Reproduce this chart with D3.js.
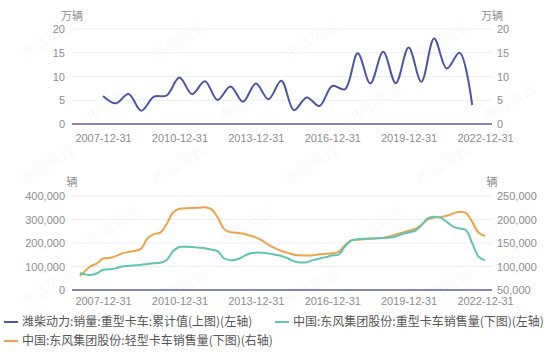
<!DOCTYPE html>
<html>
<head>
<meta charset="utf-8">
<script src="https://cdn.jsdelivr.net/npm/d3@7"></script>
<style>
  body { margin: 0; background: #fff; }
  svg { font-family: "Noto Sans CJK SC", "Noto Sans", sans-serif; }
</style>
</head>
<body>
<div id="chart"></div>
<script>
// weichai / dongfeng truck sales, two stacked panels
// ================================================

var colours = ['#4b55a2', '#5ec5b0', '#f0a24a'];

// top panel: 潍柴动力 重卡 累计值 (万辆), half-yearly
var topDates = ['2007-12-31','2008-06-30','2008-12-31','2009-06-30','2009-12-31','2010-06-30',
  '2010-12-31','2011-06-30','2011-12-31','2012-06-30','2012-12-31','2013-06-30','2013-12-31',
  '2014-06-30','2014-12-31','2015-06-30','2015-12-31','2016-06-30','2016-12-31','2017-06-30',
  '2017-12-31','2018-06-30','2018-12-31','2019-06-30','2019-12-31','2020-06-30','2020-12-31',
  '2021-06-30','2021-12-31','2022-06-30'];
var weichai = [5.9, 4.35, 6.3, 2.8, 5.75, 6.0, 9.8, 6.3, 9.0, 5.05, 7.9, 4.7, 8.55, 5.2, 9.1,
  2.9, 5.6, 3.8, 8.0, 7.3, 14.9, 8.55, 15.2, 8.6, 16.1, 8.9, 18.0, 11.7, 15.0, 4.0];

// bottom panel: 东风集团股份 重卡 (left axis) / 轻卡 (right axis), 辆
var botDates = ['2007-01-31','2007-03-31','2007-06-30','2007-09-30','2007-12-31',
  '2008-03-31','2008-06-30','2008-09-30','2008-12-31','2009-03-31','2009-06-30','2009-09-30','2009-12-31',
  '2010-03-31','2010-06-30','2010-09-30','2010-12-31','2011-03-31','2011-06-30','2011-09-30','2011-12-31',
  '2012-03-31','2012-06-30','2012-09-30','2012-12-31','2013-03-31','2013-06-30','2013-09-30','2013-12-31',
  '2014-03-31','2014-06-30','2014-09-30','2014-12-31','2015-03-31','2015-06-30','2015-09-30','2015-12-31',
  '2016-03-31','2016-06-30','2016-09-30','2016-12-31','2017-03-31','2017-06-30','2017-09-30','2017-12-31',
  '2018-03-31','2018-06-30','2018-09-30','2018-12-31','2019-03-31','2019-06-30','2019-09-30','2019-12-31',
  '2020-03-31','2020-06-30','2020-09-30','2020-12-31','2021-03-31','2021-06-30','2021-09-30','2021-12-31',
  '2022-03-31','2022-06-30','2022-09-30','2022-12-31'];
var dfHeavy = [71000, 68000, 64000, 70000, 86000,
  88000, 92000, 100000, 103000, 105000, 107000, 111000, 114000,
  116000, 128000, 165000, 183000, 184000, 183000, 180000, 178000,
  172000, 165000, 135000, 127000, 130000, 142000, 155000, 159000,
  158000, 155000, 150000, 145000, 135000, 122000, 117000, 118000,
  127000, 134000, 140000, 147000, 150000, 185000, 210000, 216000,
  218000, 219000, 220000, 221000, 223000, 228000, 238000, 245000,
  252000, 275000, 305000, 312000, 308000, 290000, 270000, 262000,
  255000, 200000, 142000, 126000];
var dfLight = [80000, 88000, 100000, 106000, 117000,
  118000, 122000, 128000, 131000, 133000, 138000, 160000, 169000,
  172000, 190000, 215000, 223000, 224000, 224500, 225000, 226000,
  222000, 205000, 180000, 173000, 172000, 170000, 166000, 162000,
  155000, 146000, 139000, 133000, 129000, 125000, 124000, 123500,
  124000, 126000, 127000, 128000, 131000, 145000, 156000, 157000,
  158000, 159000, 160000, 161000, 164000, 168000, 172000, 176000,
  180000, 188000, 200000, 204000, 205000, 208000, 213000, 216000,
  214000, 195000, 172000, 165000];

var xTicks = ['2007-12-31','2010-12-31','2013-12-31','2016-12-31','2019-12-31','2022-12-31'];
var topTicks = [0, 5, 10, 15, 20];
var botLeftTicks = [0, 100000, 200000, 300000, 400000];
var botRightTicks = [50000, 100000, 150000, 200000, 250000];

var legendItems = [
  '潍柴动力:销量:重型卡车:累计值(上图)(左轴)',
  '中国:东风集团股份:重型卡车销售量(下图)(左轴)',
  '中国:东风集团股份:轻型卡车销售量(下图)(右轴)'
];

var width = 550,
    height = 354;

var parse = d3.timeParse('%Y-%m-%d');

var svg = d3.select('#chart').append('svg')
    .attr('width', width)
    .attr('height', height);

// faint watermark
var wm = svg.append('g').attr('fill', '#000').attr('fill-opacity', 0.045)
    .attr('font-size', 15);
for (var r = 0; r < 5; r++) {
  for (var c = 0; c < 4; c++) {
    var wx = 50 + c * 132 + (r % 2) * 66,
        wy = 45 + r * 62;
    wm.append('text')
      .attr('transform', 'translate(' + wx + ',' + wy + ') rotate(-32)')
      .attr('text-anchor', 'middle')
      .text('市值风云');
  }
}

var left = 72, right = 492;

var x = d3.scaleTime()
    .domain([new Date(2006, 9, 12), new Date(2023, 3, 10)])
    .range([left, right]);

var yTop = d3.scaleLinear().domain([0, 20]).range([124, 29]);
var yBotL = d3.scaleLinear().domain([0, 400000]).range([290, 196]);
var yBotR = d3.scaleLinear().domain([50000, 250000]).range([290, 196]);

var curve = d3.curveCatmullRom.alpha(0.5);

function grid(g, scale, ticks) {
  g.selectAll('line.grid')
    .data(ticks.slice(1))
    .enter().append('line')
    .attr('x1', left).attr('x2', right)
    .attr('y1', d => scale(d)).attr('y2', d => scale(d))
    .attr('stroke', '#eceef6')
    .attr('stroke-width', 1);
}

function styleAxis(g) {
  g.select('.domain').remove();
  g.selectAll('.tick line').remove();
  g.selectAll('text').attr('fill', '#8c8c8c').attr('font-size', 11);
}

function xAxis(yPos, labelY) {
  var g = svg.append('g').attr('transform', 'translate(0,' + yPos + ')');
  g.call(d3.axisBottom(x).tickValues(xTicks.map(parse)).tickFormat(d3.timeFormat('%Y-%m-%d')).tickSize(0).tickPadding(labelY));
  styleAxis(g);
  svg.append('line')
    .attr('x1', left).attr('x2', right)
    .attr('y1', yPos).attr('y2', yPos)
    .attr('stroke', '#5a5fa3').attr('stroke-width', 1.5);
}

var fmt = d3.format(',');

// ---- top panel
var topPanel = svg.append('g');
grid(topPanel, yTop, topTicks);

var gl = svg.append('g').attr('transform', 'translate(' + left + ',0)');
gl.call(d3.axisLeft(yTop).tickValues(topTicks).tickSize(0).tickPadding(7));
styleAxis(gl);
var gr = svg.append('g').attr('transform', 'translate(' + right + ',0)');
gr.call(d3.axisRight(yTop).tickValues(topTicks).tickSize(0).tickPadding(5));
styleAxis(gr);

xAxis(124, 10);

var topData = topDates.map((d, i) => ({ date: parse(d), v: weichai[i] }));
svg.append('path')
    .datum(topData)
    .attr('fill', 'none')
    .attr('stroke', colours[0])
    .attr('stroke-width', 2)
    .attr('d', d3.line().curve(curve).x(d => x(d.date)).y(d => yTop(d.v)));

// ---- bottom panel
var botPanel = svg.append('g');
grid(botPanel, yBotL, botLeftTicks);

var bl = svg.append('g').attr('transform', 'translate(' + left + ',0)');
bl.call(d3.axisLeft(yBotL).tickValues(botLeftTicks).tickFormat(fmt).tickSize(0).tickPadding(7));
styleAxis(bl);
var br = svg.append('g').attr('transform', 'translate(' + right + ',0)');
br.call(d3.axisRight(yBotR).tickValues(botRightTicks).tickFormat(fmt).tickSize(0).tickPadding(5));
styleAxis(br);

xAxis(290, 7);

var heavyData = botDates.map((d, i) => ({ date: parse(d), v: dfHeavy[i] }));
var lightData = botDates.map((d, i) => ({ date: parse(d), v: dfLight[i] }));

svg.append('path')
    .datum(lightData)
    .attr('fill', 'none')
    .attr('stroke', colours[2])
    .attr('stroke-width', 2)
    .attr('d', d3.line().curve(curve).x(d => x(d.date)).y(d => yBotR(d.v)));

svg.append('path')
    .datum(heavyData)
    .attr('fill', 'none')
    .attr('stroke', colours[1])
    .attr('stroke-width', 2)
    .attr('d', d3.line().curve(curve).x(d => x(d.date)).y(d => yBotL(d.v)));

// unit labels
var units = [['万辆', left, 20], ['万辆', right, 20], ['辆', left, 186], ['辆', right, 186]];
svg.selectAll('text.unit')
    .data(units)
    .enter().append('text')
    .attr('class', 'unit')
    .attr('x', d => d[1]).attr('y', d => d[2])
    .attr('text-anchor', 'middle')
    .attr('font-size', 11)
    .attr('fill', '#8c8c8c')
    .text(d => d[0]);

// legend
var legPos = [[4, 322], [275, 322], [4, 341]];
var leg = svg.selectAll('g.leg')
    .data(legendItems)
    .enter().append('g')
    .attr('class', 'leg')
    .attr('transform', (d, i) => 'translate(' + legPos[i][0] + ',' + legPos[i][1] + ')');
leg.append('line')
    .attr('x1', 0).attr('x2', 14)
    .attr('stroke', (d, i) => colours[i])
    .attr('stroke-width', 2);
leg.append('text')
    .attr('x', 18).attr('y', 4)
    .attr('font-size', 12)
    .attr('fill', '#555')
    .text(d => d);
</script>
</body>
</html>
